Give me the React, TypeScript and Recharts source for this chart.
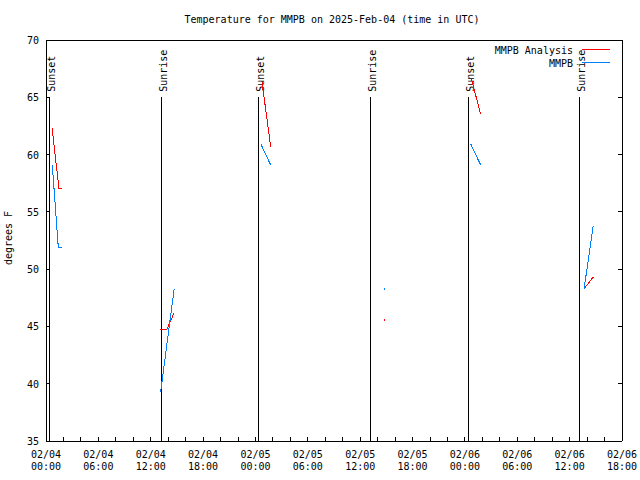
import { LineChart, Line, XAxis, YAxis, ReferenceLine, Legend } from "recharts";

const FONT = "'DejaVu Sans Mono', monospace";
const ANALYSIS_COLOR = "#ff0000";
const MMPB_COLOR = "#0080ff";

// hours after 02/04 00:00 UTC, one inner array per run of reports
const analysisHours = [[0.7, 1.49, 1.83], [13.06, 13.82, 14.69], [24.74, 25.74], [38.75], [48.76, 49.8], [61.66, 62.7]];
const analysisTemps = [[62.3, 57.0, 57.0], [44.7, 44.7, 46.2], [66.4, 60.7], [45.6], [66.6, 63.5], [48.3, 49.3]];
const mmpbHours = [[0.72, 1.41, 1.8], [13.14, 14.69], [24.63, 25.74], [38.75], [48.68, 49.8], [61.66, 62.7]];
const mmpbTemps = [[59.1, 51.9, 51.9], [39.3, 48.3], [60.9, 59.1], [48.3], [60.9, 59.1], [48.3, 53.8]];

const sunEvents = ["Sunset", "Sunrise", "Sunset", "Sunrise", "Sunset", "Sunrise"];
const sunHours = [0.38, 13.25, 24.4, 37.13, 48.4, 61.1];

const xTicks = [0, 2, 4, 6, 8, 10, 12, 14, 16, 18, 20, 22, 24, 26, 28, 30, 32, 34, 36, 38, 40, 42, 44, 46, 48, 50, 52, 54, 56, 58, 60, 62, 64, 66];
const dayLabels = ["02/04", "02/04", "02/04", "02/04", "02/05", "02/05", "02/05", "02/05", "02/06", "02/06", "02/06", "02/06"];
const timeLabels = ["00:00", "06:00", "12:00", "18:00", "00:00", "06:00", "12:00", "18:00", "00:00", "06:00", "12:00", "18:00"];
const yTicks = [35, 40, 45, 50, 55, 60, 65, 70];
const legendOrder = ["MMPB Analysis", "MMPB"];

type Pt = { t: number; v: number | null; solo?: boolean };

function toSeries(hours: number[][], temps: number[][]): Pt[] {
  const out: Pt[] = [];
  hours.forEach((run, r) => {
    run.forEach((t, i) => out.push({ t, v: temps[r][i], solo: run.length === 1 }));
    if (r < hours.length - 1) out.push({ t: run[run.length - 1] + 0.01, v: null });
  });
  return out;
}

const analysisData = toSeries(analysisHours, analysisTemps);
const mmpbData = toSeries(mmpbHours, mmpbTemps);

function BottomTick(props: any) {
  const { x, y, payload } = props;
  const h = payload.value as number;
  const k = h / 6;
  return (
    <g>
      <line x1={x} y1={y} x2={x} y2={y - 4} stroke="#000" />
      {h % 6 === 0 && (
        <text x={x} y={y + 17} textAnchor="middle" fontFamily={FONT} fontSize={10} fill="#000">
          <tspan x={x}>{dayLabels[k]}</tspan>
          <tspan x={x} dy={12}>{timeLabels[k]}</tspan>
        </text>
      )}
    </g>
  );
}

function TopTick(props: any) {
  const { x, y } = props;
  return <line x1={x} y1={y} x2={x} y2={y + 4} stroke="#000" />;
}

function LeftTick(props: any) {
  const { x, y, payload } = props;
  return (
    <g>
      <line x1={x} y1={y} x2={x + 4} y2={y} stroke="#000" />
      <text x={x - 7} y={y + 4} textAnchor="end" fontFamily={FONT} fontSize={10} fill="#000">
        {payload.value}
      </text>
    </g>
  );
}

function RightTick(props: any) {
  const { x, y } = props;
  return <line x1={x} y1={y} x2={x - 4} y2={y} stroke="#000" />;
}

function sunLabel(text: string) {
  return (props: any) => {
    const vb = props.viewBox;
    const tx = vb.x + 5.5;
    const ty = vb.y - 5.5;
    return (
      <text x={tx} y={ty} transform={`rotate(-90, ${tx}, ${ty})`} fontFamily={FONT} fontSize={10} fill="#000">
        {text}
      </text>
    );
  };
}

function soloDot(color: string) {
  return (p: any) =>
    p.payload && p.payload.solo ? (
      <rect key={`dot-${p.index}`} x={p.cx - 0.5} y={p.cy - 0.5} width={1.5} height={1.5} fill={color} />
    ) : (
      <g key={`dot-${p.index}`} />
    );
}

function TitleAndKey(props: any) {
  const items = [...((props.payload ?? []) as any[])].sort(
    (a, b) => legendOrder.indexOf(a.value) - legendOrder.indexOf(b.value)
  );
  return (
    <svg width={640} height={80} style={{ display: "block" }}>
      <text x={332} y={23} textAnchor="middle" fontFamily={FONT} fontSize={10} fill="#000">
        Temperature for MMPB on 2025-Feb-04 (time in UTC)
      </text>
      {items.map((item, i) => (
        <g key={item.value}>
          <text x={573} y={54 + i * 12.5} textAnchor="end" fontFamily={FONT} fontSize={10} fill="#000">
            {item.value}
          </text>
          <line x1={582} x2={610} y1={49.5 + i * 13} y2={49.5 + i * 13} stroke={item.color} />
        </g>
      ))}
    </svg>
  );
}

export default function App() {
  return (
    <div style={{ position: "absolute", left: 0, top: 0, width: 640, height: 480, background: "#fff" }}>
      <LineChart
        width={640}
        height={480}
        margin={{ top: 39, right: 17, bottom: 38, left: 45 }}
        style={{ shapeRendering: "crispEdges" }}
      >
        <XAxis
          dataKey="t"
          type="number"
          domain={[0, 66]}
          allowDataOverflow
          ticks={xTicks}
          interval={0}
          height={1}
          tickSize={0}
          tickMargin={0}
          tickLine={false}
          axisLine={{ stroke: "#000" }}
          tick={<BottomTick />}
        />
        <XAxis
          xAxisId="top"
          orientation="top"
          type="number"
          domain={[0, 66]}
          allowDataOverflow
          ticks={xTicks}
          interval={0}
          height={1}
          tickSize={0}
          tickMargin={0}
          tickLine={false}
          axisLine={{ stroke: "#000" }}
          tick={<TopTick />}
        />
        <YAxis
          type="number"
          domain={[35, 70]}
          allowDataOverflow
          ticks={yTicks}
          interval={0}
          width={1}
          tickSize={0}
          tickMargin={0}
          tickLine={false}
          axisLine={{ stroke: "#000" }}
          tick={<LeftTick />}
          label={{
            content: () => (
              <text x={11.5} y={238} transform="rotate(-90, 11.5, 238)" textAnchor="middle" fontFamily={FONT} fontSize={10} fill="#000">
                degrees F
              </text>
            ),
          }}
        />
        <YAxis
          yAxisId="right"
          orientation="right"
          type="number"
          domain={[35, 70]}
          allowDataOverflow
          ticks={yTicks}
          interval={0}
          width={1}
          tickSize={0}
          tickMargin={0}
          tickLine={false}
          axisLine={{ stroke: "#000" }}
          tick={<RightTick />}
        />
        {sunHours.map((h, i) => (
          <ReferenceLine
            key={`sun-${i}`}
            segment={[{ x: h, y: 35 }, { x: h, y: 65 }]}
            stroke="#000"
            strokeWidth={1}
            label={sunLabel(sunEvents[i])}
          />
        ))}
        <Line
          data={analysisData}
          dataKey="v"
          name="MMPB Analysis"
          stroke={ANALYSIS_COLOR}
          strokeWidth={1}
          dot={soloDot(ANALYSIS_COLOR)}
          activeDot={false}
          connectNulls={false}
          isAnimationActive={false}
        />
        <Line
          data={mmpbData}
          dataKey="v"
          name="MMPB"
          stroke={MMPB_COLOR}
          strokeWidth={1}
          dot={soloDot(MMPB_COLOR)}
          activeDot={false}
          connectNulls={false}
          isAnimationActive={false}
        />
        <Legend
          layout="horizontal"
          verticalAlign="middle"
          align="center"
          content={<TitleAndKey />}
          wrapperStyle={{ position: "absolute", left: 0, top: 0, width: 640, height: 80, pointerEvents: "none" }}
        />
      </LineChart>
    </div>
  );
}
